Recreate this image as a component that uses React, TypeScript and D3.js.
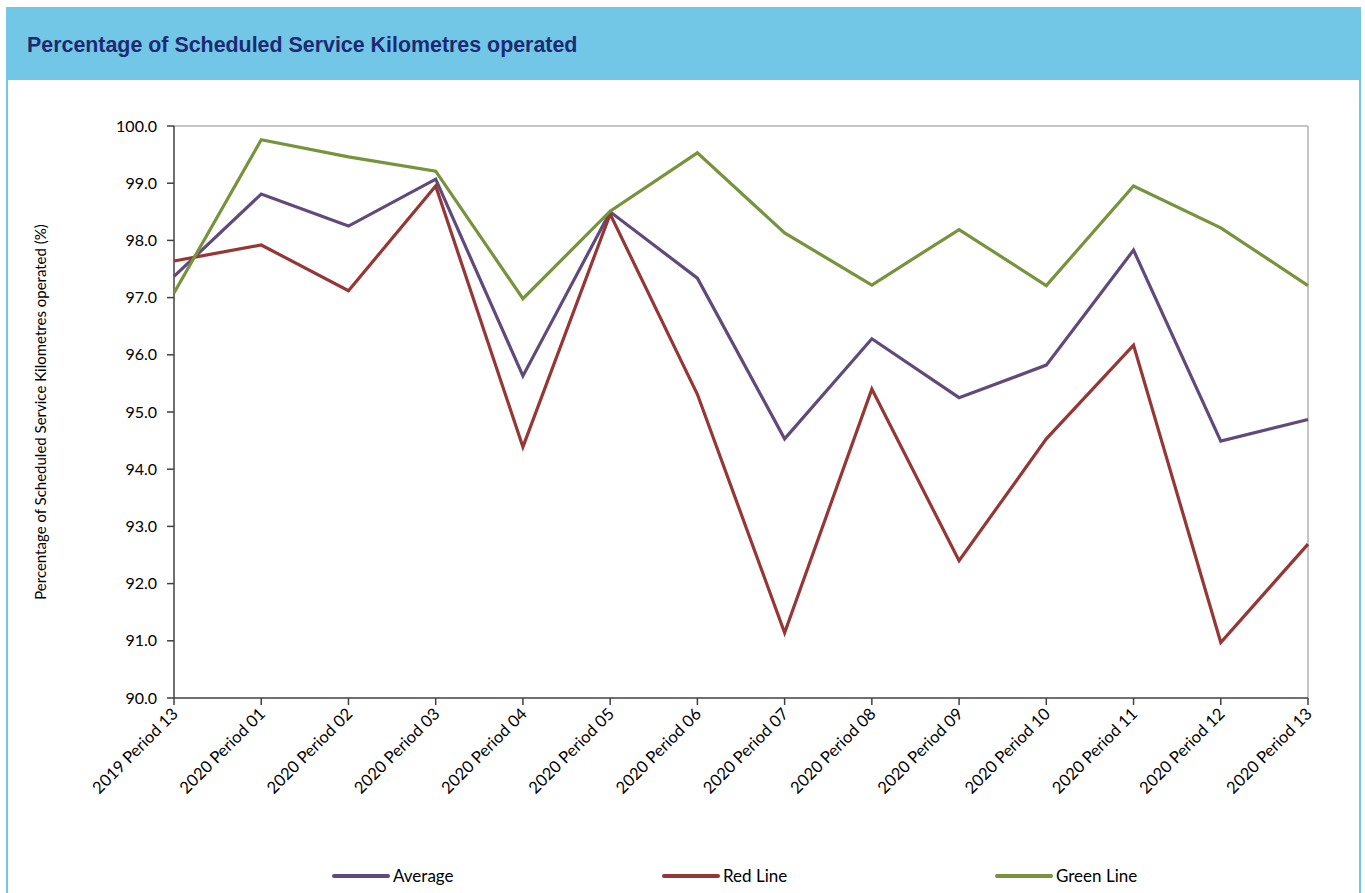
import React from "react";
import * as d3 from "d3";

const categories = [
  "2019 Period 13", "2020 Period 01", "2020 Period 02", "2020 Period 03", "2020 Period 04",
  "2020 Period 05", "2020 Period 06", "2020 Period 07", "2020 Period 08", "2020 Period 09",
  "2020 Period 10", "2020 Period 11", "2020 Period 12", "2020 Period 13",
];
const averageValues = [97.37, 98.81, 98.25, 99.07, 95.63, 98.50, 97.34, 94.53, 96.28, 95.25, 95.82, 97.83, 94.49, 94.87];
const redLineValues = [97.64, 97.92, 97.12, 98.95, 94.39, 98.46, 95.31, 91.14, 95.40, 92.40, 94.53, 96.17, 90.97, 92.69];
const greenLineValues = [97.08, 99.76, 99.46, 99.21, 96.98, 98.51, 99.53, 98.13, 97.22, 98.19, 97.21, 98.95, 98.22, 97.21];
const yTicks = [90, 91, 92, 93, 94, 95, 96, 97, 98, 99, 100];

const seriesNames = ["Average", "Red Line", "Green Line"];
const seriesColors = ["#604A7B", "#953735", "#77933C"];
const seriesData = [averageValues, redLineValues, greenLineValues];

const W = 1365;
const H = 893;
const plot = { left: 174, right: 1308, top: 126, bottom: 698 };
const FONT = "Lato, 'Open Sans', sans-serif";

export default function App() {
  const x = d3.scalePoint<string>().domain(categories).range([plot.left, plot.right]);
  const y = d3.scaleLinear().domain([90, 100]).range([plot.bottom, plot.top]);
  const line = d3
    .line<number>()
    .x((_, i) => x(categories[i]) as number)
    .y((d) => y(d));

  const legendX = [334, 664, 997];

  return (
    <svg
      width={W}
      height={H}
      style={{ position: "absolute", left: 0, top: 0, background: "#fff" }}
    >
      {/* panel */}
      <rect x={7} y={8} width={1353} height={H + 20} fill="#fff" stroke="#72C6E6" strokeWidth={2} />
      <rect x={6} y={7} width={1355} height={73} fill="#72C6E6" />
      <text
        x={27}
        y={52}
        fontFamily="'Liberation Sans', Arial, sans-serif"
        fontWeight="bold"
        fontSize={21.4}
        fill="#1D2A72"
      >
        Percentage of Scheduled Service Kilometres operated
      </text>

      {/* frame */}
      <line x1={plot.left} x2={plot.right} y1={plot.top} y2={plot.top} stroke="#B3B3B3" strokeWidth={1.5} />
      <line x1={plot.right} x2={plot.right} y1={plot.top} y2={plot.bottom} stroke="#B3B3B3" strokeWidth={1.5} />

      {/* y axis */}
      <line x1={plot.left} x2={plot.left} y1={plot.top} y2={plot.bottom} stroke="#404040" strokeWidth={1.5} />
      {yTicks.map((t) => (
        <g key={t}>
          <line x1={plot.left - 7} x2={plot.left} y1={y(t)} y2={y(t)} stroke="#404040" strokeWidth={1.5} />
          <text
            x={plot.left - 17}
            y={y(t)}
            dy="0.35em"
            textAnchor="end"
            fontFamily={FONT}
            fontSize={16}
            fill="#000"
          >
            {t.toFixed(1)}
          </text>
        </g>
      ))}
      <text
        transform={`translate(46, ${(plot.top + plot.bottom) / 2}) rotate(-90)`}
        textAnchor="middle"
        fontFamily={FONT}
        fontSize={15}
        fill="#000"
      >
        Percentage of Scheduled Service Kilometres operated (%)
      </text>

      {/* x axis */}
      <line x1={plot.left} x2={plot.right} y1={plot.bottom} y2={plot.bottom} stroke="#404040" strokeWidth={1.5} />
      {categories.map((c) => {
        const cx = x(c) as number;
        return (
          <g key={c}>
            <line x1={cx} x2={cx} y1={plot.bottom} y2={plot.bottom + 7} stroke="#404040" strokeWidth={1.5} />
            <text
              transform={`translate(${cx + 5}, ${plot.bottom + 17}) rotate(-45)`}
              textAnchor="end"
              fontFamily={FONT}
              fontSize={16.5}
              fill="#000"
            >
              {c}
            </text>
          </g>
        );
      })}

      {/* lines */}
      {seriesData.map((vals, i) => (
        <path
          key={seriesNames[i]}
          d={line(vals) || ""}
          fill="none"
          stroke={seriesColors[i]}
          strokeWidth={3.2}
          strokeLinejoin="miter"
        />
      ))}

      {/* legend */}
      {seriesNames.map((n, i) => (
        <g key={n}>
          <line
            x1={legendX[i]}
            x2={legendX[i] + 54}
            y1={876}
            y2={876}
            stroke={seriesColors[i]}
            strokeWidth={4}
            strokeLinecap="round"
          />
          <text x={legendX[i] + 59} y={876} dy="0.35em" fontFamily={FONT} fontSize={17} fill="#000">
            {n}
          </text>
        </g>
      ))}
    </svg>
  );
}
